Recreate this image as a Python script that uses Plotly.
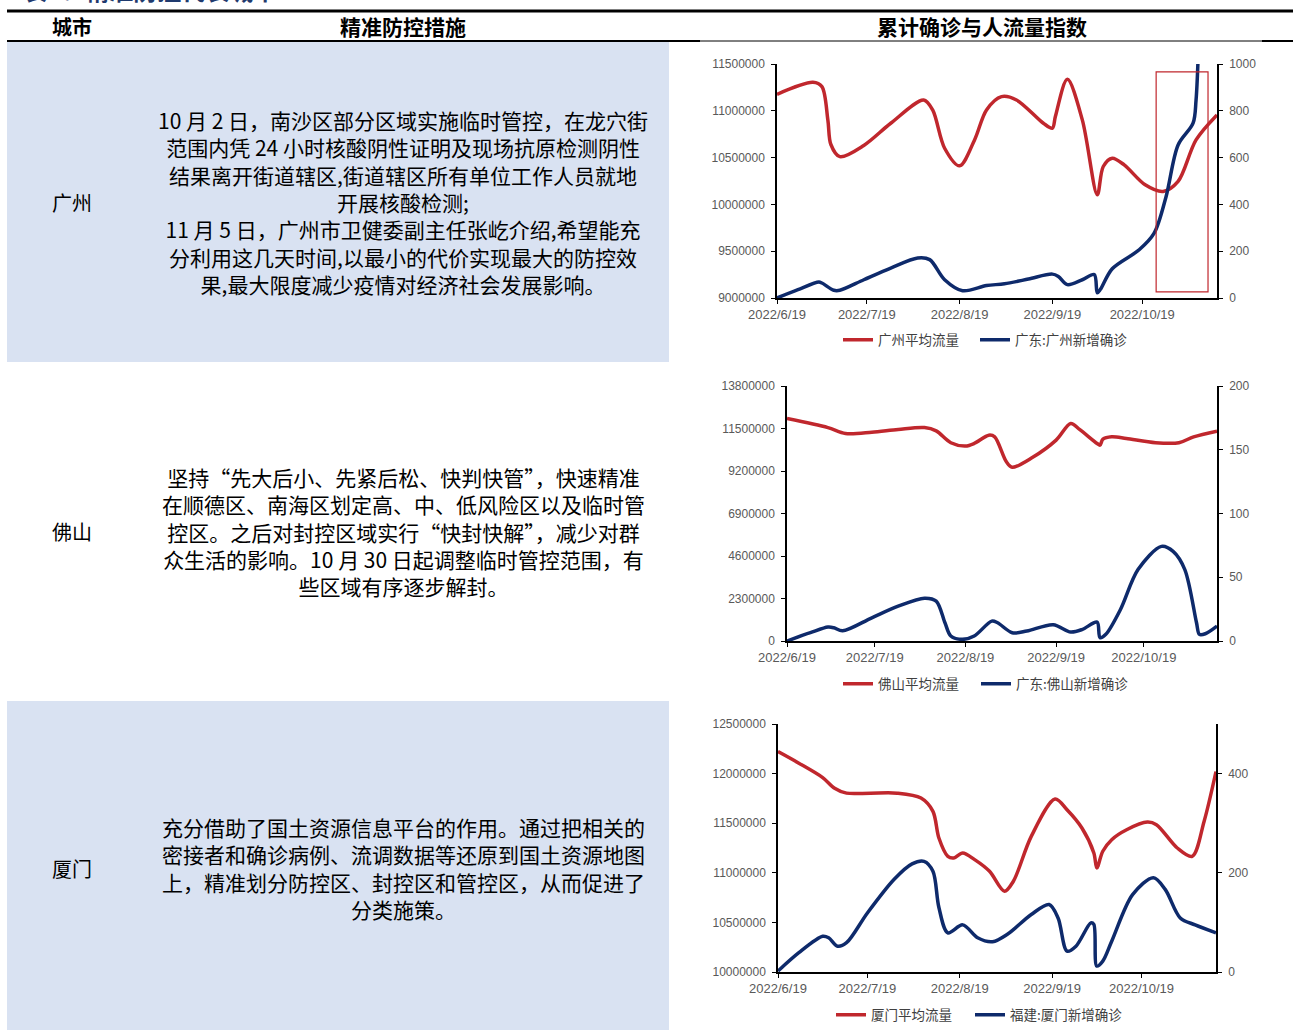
import plotly.graph_objects as go

# ---------------- table text ----------------
TITLE = "表6：精准防控代表城市"
HEADERS = ["城市", "精准防控措施", "累计确诊与人流量指数"]
CITIES = ["广州", "佛山", "厦门"]

MEASURES_GZ = [
    "10 月 2 日，南沙区部分区域实施临时管控，在龙穴街",
    "范围内凭 24 小时核酸阴性证明及现场抗原检测阴性",
    "结果离开街道辖区,街道辖区所有单位工作人员就地",
    "开展核酸检测;",
    "11 月 5 日，广州市卫健委副主任张屹介绍,希望能充",
    "分利用这几天时间,以最小的代价实现最大的防控效",
    "果,最大限度减少疫情对经济社会发展影响。",
]
MEASURES_FS = [
    "坚持“先大后小、先紧后松、快判快管”，快速精准",
    "在顺德区、南海区划定高、中、低风险区以及临时管",
    "控区。之后对封控区域实行“快封快解”，减少对群",
    "众生活的影响。10 月 30 日起调整临时管控范围，有",
    "些区域有序逐步解封。",
]
MEASURES_XM = [
    "充分借助了国土资源信息平台的作用。通过把相关的",
    "密接者和确诊病例、流调数据等还原到国土资源地图",
    "上，精准划分防控区、封控区和管控区，从而促进了",
    "分类施策。",
]

# ---------------- chart data ----------------
X_TICKS = ["2022-06-19", "2022-07-19", "2022-08-19", "2022-09-19", "2022-10-19"]
X_TICKTEXT = ["2022/6/19", "2022/7/19", "2022/8/19", "2022/9/19", "2022/10/19"]
X_START, X_END = "2022-06-19", "2022-11-13"

# 广州
GZ_FLOW_NAME = "广州平均流量"
GZ_FLOW_DATES = ["2022-06-19", "2022-07-01", "2022-07-04", "2022-07-06", "2022-07-07",
                 "2022-07-10", "2022-07-18", "2022-07-27", "2022-08-07", "2022-08-10",
                 "2022-08-14", "2022-08-19", "2022-08-24", "2022-08-28", "2022-09-02",
                 "2022-09-07", "2022-09-16", "2022-09-19", "2022-09-20", "2022-09-24",
                 "2022-09-29", "2022-10-04", "2022-10-06", "2022-10-09", "2022-10-13",
                 "2022-10-20", "2022-10-26", "2022-10-31", "2022-11-06", "2022-11-13"]
GZ_FLOW = [11176000, 11304000, 11258000, 10900000, 10640000,
           10510000, 10630000, 10867000, 11116000, 11009000,
           10600000, 10412000, 10689000, 11009000, 11151000,
           11116000, 10867000, 10814000, 10938000, 11336000,
           10903000, 10102000, 10405000, 10494000, 10422000,
           10209000, 10138000, 10245000, 10689000, 10956000]
GZ_CASE_NAME = "广东:广州新增确诊"
GZ_CASE_DATES = ["2022-06-19", "2022-06-26", "2022-07-03", "2022-07-04", "2022-07-08",
                 "2022-07-10", "2022-07-18", "2022-07-27", "2022-08-05", "2022-08-09",
                 "2022-08-14", "2022-08-20", "2022-08-28", "2022-09-03", "2022-09-11",
                 "2022-09-19", "2022-09-21", "2022-09-24", "2022-09-29", "2022-10-03",
                 "2022-10-04", "2022-10-05", "2022-10-09", "2022-10-18", "2022-10-23",
                 "2022-10-27", "2022-10-31", "2022-11-05", "2022-11-06", "2022-11-07"]
GZ_CASES = [0, 36, 68, 64, 33,
            33, 78, 128, 171, 164,
            78, 31, 53, 61, 81,
            102, 92, 57, 78, 100,
            22, 36, 125, 206, 277,
            434, 654, 747, 846, 1150]
GZ_HIGHLIGHT = ("2022-10-23 16:00", "2022-11-10", 9065000, 11415000)

# 佛山
FS_FLOW_NAME = "佛山平均流量"
FS_FLOW_DATES = ["2022-06-19", "2022-07-03", "2022-07-09", "2022-07-18", "2022-07-27",
                 "2022-08-05", "2022-08-09", "2022-08-14", "2022-08-19", "2022-08-22",
                 "2022-08-27", "2022-08-29", "2022-09-02", "2022-09-04", "2022-09-11",
                 "2022-09-19", "2022-09-24", "2022-09-27", "2022-10-03", "2022-10-04",
                 "2022-10-05", "2022-10-08", "2022-10-13", "2022-10-23", "2022-10-31",
                 "2022-11-05", "2022-11-13"]
FS_FLOW = [12040000, 11550000, 11230000, 11300000, 11450000,
           11550000, 11370000, 10730000, 10550000, 10690000,
           11140000, 11050000, 9700000, 9400000, 9940000,
           10870000, 11770000, 11450000, 10690000, 10600000,
           10920000, 11050000, 10960000, 10730000, 10730000,
           11050000, 11360000]
FS_CASE_NAME = "广东:佛山新增确诊"
FS_CASE_DATES = ["2022-06-19", "2022-06-27", "2022-07-03", "2022-07-05", "2022-07-08",
                 "2022-07-18", "2022-07-27", "2022-08-05", "2022-08-09", "2022-08-12",
                 "2022-08-14", "2022-08-18", "2022-08-22", "2022-08-28", "2022-08-30",
                 "2022-09-04", "2022-09-09", "2022-09-18", "2022-09-24", "2022-09-28",
                 "2022-10-03", "2022-10-04", "2022-10-06", "2022-10-11", "2022-10-17",
                 "2022-10-25", "2022-10-29", "2022-11-02", "2022-11-06", "2022-11-07",
                 "2022-11-09", "2022-11-13"]
FS_CASES = [0, 6.5, 10.9, 10.4, 8.0,
            18.2, 27.3, 33.6, 31.3, 14.3,
            3.9, 1.3, 3.9, 15.6, 14.3,
            6.5, 7.8, 12.8, 7.0, 9.1,
            14.8, 2.6, 5.2, 24.7, 56.0,
            74.2, 70.3, 56.0, 14.3, 5.2,
            5.7, 11.7]

# 厦门
XM_FLOW_NAME = "厦门平均流量"
XM_FLOW_DATES = ["2022-06-19", "2022-06-26", "2022-07-04", "2022-07-08", "2022-07-12",
                 "2022-07-20", "2022-07-29", "2022-08-06", "2022-08-10", "2022-08-12",
                 "2022-08-15", "2022-08-17", "2022-08-20", "2022-08-24", "2022-08-29",
                 "2022-09-03", "2022-09-06", "2022-09-12", "2022-09-20", "2022-09-24",
                 "2022-09-29", "2022-10-03", "2022-10-04", "2022-10-06", "2022-10-09",
                 "2022-10-14", "2022-10-21", "2022-10-24", "2022-10-31", "2022-11-05",
                 "2022-11-09", "2022-11-13"]
XM_FLOW = [12222000, 12105000, 11960000, 11853000, 11803000,
           11803000, 11803000, 11753000, 11619000, 11351000,
           11166000, 11150000, 11200000, 11133000, 11015000,
           10814000, 10915000, 11367000, 11743000, 11635000,
           11451000, 11200000, 11049000, 11217000, 11334000,
           11434000, 11511000, 11485000, 11250000, 11166000,
           11518000, 12021000]
XM_CASE_NAME = "福建:厦门新增确诊"
XM_CASE_DATES = ["2022-06-19", "2022-06-26", "2022-07-04", "2022-07-06", "2022-07-09",
                 "2022-07-12", "2022-07-19", "2022-07-28", "2022-08-03", "2022-08-07",
                 "2022-08-10", "2022-08-12", "2022-08-15", "2022-08-20", "2022-08-25",
                 "2022-08-30", "2022-09-04", "2022-09-12", "2022-09-18", "2022-09-21",
                 "2022-09-24", "2022-09-27", "2022-10-02", "2022-10-03", "2022-10-04",
                 "2022-10-06", "2022-10-09", "2022-10-16", "2022-10-23", "2022-10-27",
                 "2022-11-01", "2022-11-06", "2022-11-13"]
XM_CASES = [2, 39, 72, 69, 52,
            59, 119, 187, 218, 223,
            203, 130, 79, 95, 69,
            61, 76, 116, 136, 109,
            42, 52, 99, 96, 12,
            22, 62, 156, 190, 166,
            109, 95, 79]

# ---------------- styling ----------------
W, H = 1298, 1030
RED = "#C0272D"
BLUE = "#0E2A6B"
SHADE = "#D9E2F2"
CJK = "Noto Sans CJK SC"
TICK_FONT = dict(family="Liberation Sans", size=12, color="#595959")
XTICK_FONT = dict(family="Liberation Sans", size=13, color="#595959")
LEG_FONT = dict(family=CJK, size=13.5, color="#404040")


def fx(px):
    return px / W


def fy(py):
    return 1 - py / H


panels = [
    dict(box=(777, 64, 1217, 298), left=(9000000, 11500000, 500000), right=(0, 1000, 200),
         flow=(GZ_FLOW_NAME, GZ_FLOW_DATES, GZ_FLOW), case=(GZ_CASE_NAME, GZ_CASE_DATES, GZ_CASES),
         legend_y=340, legend_x=(843, 980)),
    dict(box=(787, 386, 1217, 641), left=(0, 13800000, 2300000), right=(0, 200, 50),
         flow=(FS_FLOW_NAME, FS_FLOW_DATES, FS_FLOW), case=(FS_CASE_NAME, FS_CASE_DATES, FS_CASES),
         legend_y=684, legend_x=(843, 981)),
    dict(box=(778, 724, 1216, 972), left=(10000000, 12500000, 500000), right=(0, 500, 200),
         flow=(XM_FLOW_NAME, XM_FLOW_DATES, XM_FLOW), case=(XM_CASE_NAME, XM_CASE_DATES, XM_CASES),
         legend_y=1015, legend_x=(836, 975)),
]

fig = go.Figure()
layout = dict(
    template="none",
    width=W, height=H, autosize=False,
    margin=dict(l=0, r=0, t=0, b=0, pad=0, autoexpand=False),
    paper_bgcolor="white", plot_bgcolor="rgba(0,0,0,0)",
    showlegend=True, shapes=[], annotations=[],
)

axis_common = dict(showline=True, linecolor="black", linewidth=1.5, ticks="outside",
                   tickcolor="black", tickwidth=1, showgrid=False, zeroline=False,
                   automargin=False, tickfont=TICK_FONT, fixedrange=True)

legend_no = 0
for i, p in enumerate(panels, start=1):
    xa = "x" if i == 1 else f"x{i}"
    yl = "y" if i == 1 else f"y{2 * i - 1}"
    yr = f"y{2 * i}"
    x0, y0, x1, y1 = p["box"]

    layout["xaxis" if i == 1 else f"xaxis{i}"] = dict(
        axis_common, domain=[fx(x0), fx(x1)], anchor=yl, type="date",
        range=[X_START, X_END], tickvals=X_TICKS, ticktext=X_TICKTEXT, ticklen=4,
        ticklabelstandoff=0, tickfont=XTICK_FONT)
    lo, hi, step = p["left"]
    layout["yaxis" if i == 1 else f"yaxis{2 * i - 1}"] = dict(
        axis_common, domain=[fy(y1), fy(y0)], anchor=xa, range=[lo, hi],
        tick0=lo, dtick=step, tickformat="d", ticklen=4, ticklabelstandoff=4)
    lo, hi, step = p["right"]
    layout[f"yaxis{2 * i}"] = dict(
        axis_common, overlaying=yl, side="right", anchor=xa, range=[lo, hi],
        tick0=lo, dtick=step, tickformat="d", ticklen=4, ticklabelstandoff=4)

    # each series gets its own one-entry legend under the panel
    for (name, dates, vals), yaxis, color, lx in [
        (p["flow"], yl, RED, p["legend_x"][0]),
        (p["case"], yr, BLUE, p["legend_x"][1]),
    ]:
        legend_no += 1
        leg = "legend" if legend_no == 1 else f"legend{legend_no}"
        fig.add_trace(go.Scatter(x=dates, y=vals, xaxis=xa, yaxis=yaxis, mode="lines", name=name,
                                 line=dict(color=color, width=3.5, shape="spline", smoothing=0.9),
                                 legend=leg, hoverinfo="skip"))
        layout[leg] = dict(orientation="h", x=fx(lx - 5), y=fy(p["legend_y"]),
                           xanchor="left", yanchor="middle", font=LEG_FONT,
                           bgcolor="rgba(0,0,0,0)", itemwidth=30,
                           itemclick=False, itemdoubleclick=False)

# highlighted window on the Guangzhou chart
hx0, hx1, hy0, hy1 = GZ_HIGHLIGHT
layout["shapes"].append(dict(type="rect", xref="x", yref="y", x0=hx0, x1=hx1, y0=hy0, y1=hy1,
                             line=dict(color=RED, width=1.2), fillcolor="rgba(0,0,0,0)"))

# ---------------- table frame ----------------
def hline(x0, x1, y, w):
    return dict(type="line", xref="paper", yref="paper", x0=fx(x0), x1=fx(x1),
                y0=fy(y), y1=fy(y), line=dict(color="black", width=w))


def band(x0, x1, y0, y1):
    return dict(type="rect", xref="paper", yref="paper", x0=fx(x0), x1=fx(x1),
                y0=fy(y1), y1=fy(y0), fillcolor=SHADE, line=dict(width=0), layer="below")


layout["shapes"] += [
    band(7, 669, 42, 362),
    band(7, 669, 701, 1030),
    hline(7, 1293, 11, 3),
    hline(7, 700, 41, 2),
    hline(700, 1262, 41, 1),
    hline(1262, 1293, 41, 2),
]


def text(x, y, s, size, bold=False, color="black", anchor="middle"):
    return dict(xref="paper", yref="paper", x=fx(x), y=fy(y), text=f"<b>{s}</b>" if bold else s,
                showarrow=False, xanchor="center", yanchor=anchor, align="center",
                font=dict(family=CJK, size=size, color=color))


ann = layout["annotations"]
ann.append(text(150, 9, TITLE, 24, bold=True, color="#1F3A6E", anchor="bottom"))
ann.append(text(72, 26, HEADERS[0], 20, bold=True))
ann.append(text(403, 26, HEADERS[1], 21, bold=True))
ann.append(text(982, 26, HEADERS[2], 21, bold=True))

for city, cy, lines in [
    (CITIES[0], 202, MEASURES_GZ),
    (CITIES[1], 531.5, MEASURES_FS),
    (CITIES[2], 868, MEASURES_XM),
]:
    ann.append(text(72, cy, city, 20))
    ann.append(text(403, cy, "<br>".join(lines), 21))

fig.update_layout(**layout)
fig.write_html("out.html")
